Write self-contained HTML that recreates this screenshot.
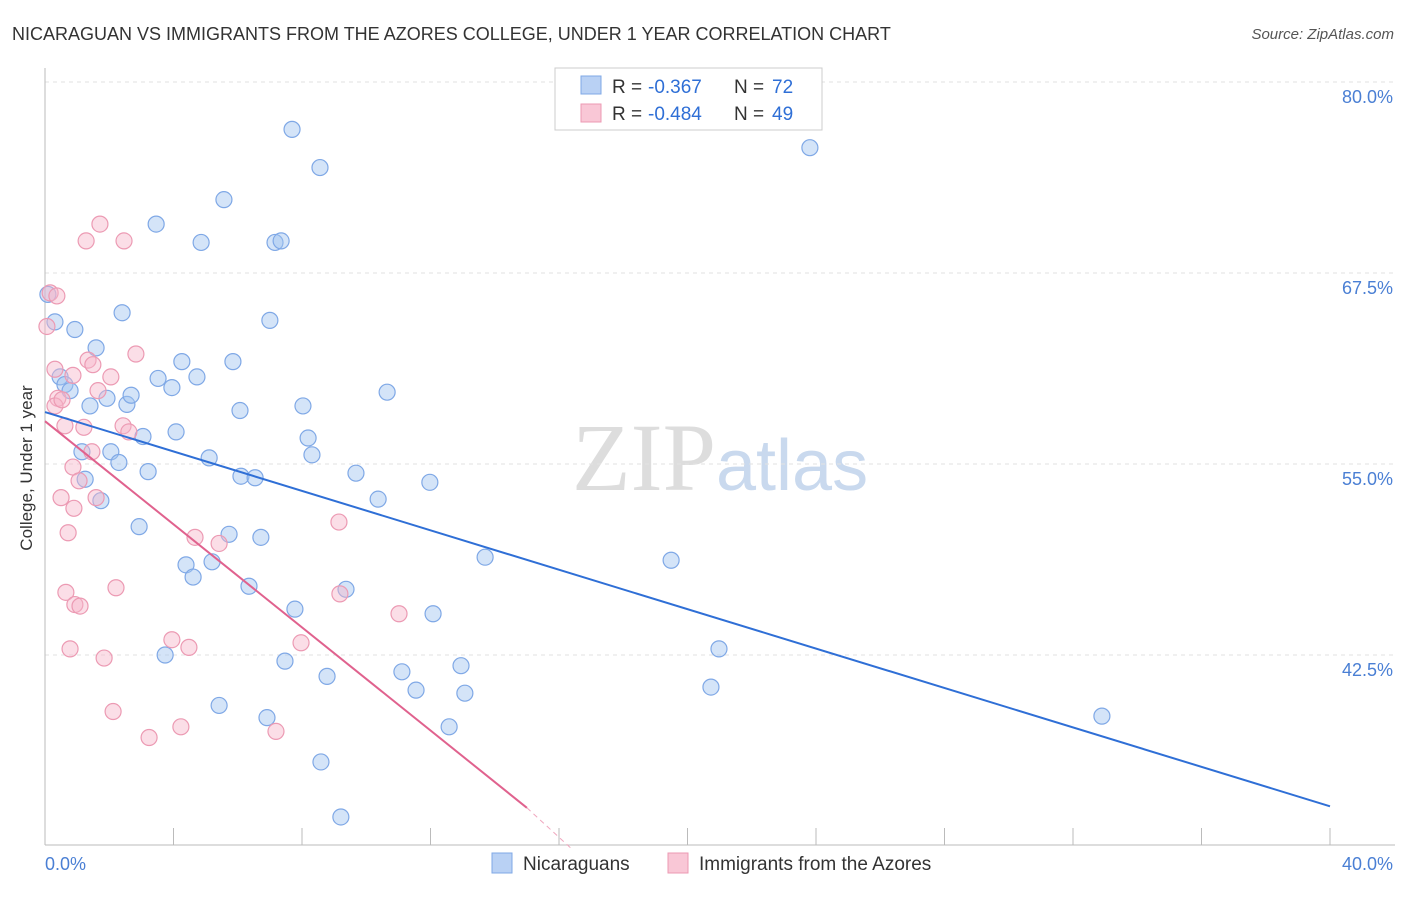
<!DOCTYPE html>
<html><head><meta charset="utf-8"><style>
body{margin:0;background:#fff;font-family:"Liberation Sans",sans-serif;}
</style></head><body>
<svg width="1406" height="892" xmlns="http://www.w3.org/2000/svg" font-family="Liberation Sans, sans-serif">
<text x="12" y="40" font-size="18" fill="#333">NICARAGUAN VS IMMIGRANTS FROM THE AZORES COLLEGE, UNDER 1 YEAR CORRELATION CHART</text>
<text x="1394" y="39" font-size="15" fill="#555" font-style="italic" text-anchor="end">Source: ZipAtlas.com</text>
<text x="716" y="490" font-size="96" fill="#ddd" text-anchor="end" font-family="Liberation Serif, serif">ZIP</text>
<text x="716" y="490" font-size="72" fill="#c9d9ee">atlas</text>
<g id="grid"></g>
<line x1="45" y1="68" x2="45" y2="845" stroke="#bbb"/>
<line x1="45" y1="845" x2="1395" y2="845" stroke="#bbb"/>
<text x="20" y="456" font-size="17" fill="#333" transform="rotate(-90 32 456)" text-anchor="middle">College, Under 1 year</text>
<text x="45" y="870" font-size="18" fill="#4a7fd4">0.0%</text>
<text x="1393" y="870" font-size="18" fill="#4a7fd4" text-anchor="end">40.0%</text>
<g id="pts"></g>
<g id="lines"></g>
<rect x="555" y="68" width="267" height="62" fill="#fff" stroke="#ccc"/>
<rect x="581" y="76" width="20" height="18" fill="#b9d1f4" stroke="#7fa8e6"/>
<rect x="581" y="104" width="20" height="18" fill="#f9c7d6" stroke="#ec9ab3"/>
<g font-size="19" fill="#333">
<text x="612" y="93">R =</text>
<text x="648" y="93" fill="#2f6fd6">-0.367</text>
<text x="734" y="93">N =</text>
<text x="772" y="93" fill="#2f6fd6">72</text>
<text x="612" y="120">R =</text>
<text x="648" y="120" fill="#2f6fd6">-0.484</text>
<text x="734" y="120">N =</text>
<text x="772" y="120" fill="#2f6fd6">49</text>
</g>
<rect x="492" y="853" width="20" height="20" fill="#b9d1f4" stroke="#7fa8e6"/>
<text x="523" y="870" font-size="19" fill="#333">Nicaraguans</text>
<rect x="668" y="853" width="20" height="20" fill="#f9c7d6" stroke="#ec9ab3"/>
<text x="699" y="870" font-size="19" fill="#333">Immigrants from the Azores</text>
</svg>
<script>
const yTicks=[80,67.5,55,42.5];
const xTicks=[0,4,8,12,16,20,24,28,32,36,40];
const blueX=[7.69,8.56,23.81,5.57,3.46,4.86,7.16,7.35,0.09,0.31,0.93,2.40,7.00,1.59,4.26,5.85,0.47,0.62,0.78,3.52,3.95,4.73,10.65,1.40,1.93,2.55,2.68,6.07,8.03,3.05,4.08,8.19,1.15,2.05,5.11,8.31,2.30,3.21,6.10,6.54,9.68,11.98,1.25,1.74,10.37,2.93,5.73,6.72,13.70,19.49,4.39,5.20,4.61,6.35,9.37,7.78,12.08,20.98,3.74,7.47,12.95,11.11,8.78,11.55,13.07,20.73,5.42,6.91,12.58,32.90,8.59,9.21];
const blueY=[76.9,74.4,75.7,72.3,70.7,69.5,69.5,69.6,66.1,64.3,63.8,64.9,64.4,62.6,61.7,61.7,60.7,60.2,59.8,60.6,60,60.7,59.7,58.8,59.3,58.9,59.5,58.5,58.8,56.8,57.1,56.7,55.8,55.8,55.4,55.6,55.1,54.5,54.2,54.1,54.4,53.8,54,52.6,52.7,50.9,50.4,50.2,48.9,48.7,48.4,48.6,47.6,47,46.8,45.5,45.2,42.9,42.5,42.1,41.8,41.4,41.1,40.2,40,40.4,39.2,38.4,37.8,38.5,35.5,31.9];
const pinkX=[1.71,1.28,2.46,0.16,0.37,0.06,2.83,1.34,1.49,0.31,0.87,2.05,1.65,0.40,0.31,0.53,2.43,1.21,2.61,0.62,1.46,0.87,1.06,0.50,1.59,0.90,0.72,9.15,4.67,5.42,2.21,0.65,0.93,1.09,9.18,11.02,7.97,3.95,4.48,0.78,1.84,2.12,4.23,3.24,7.19];
const pinkY=[70.7,69.6,69.6,66.2,66,64,62.2,61.8,61.5,61.2,60.8,60.7,59.8,59.3,58.8,59.2,57.5,57.4,57.1,57.5,55.8,54.8,53.9,52.8,52.8,52.1,50.5,51.2,50.2,49.8,46.9,46.6,45.8,45.7,46.5,45.2,43.3,43.5,43,42.9,42.3,38.8,37.8,37.1,37.5];
function xs(p){return 45+p*1285/40;}
function ys(v){return 82+(80-v)*191/12.5;}
const ns="http://www.w3.org/2000/svg";
const grid=document.getElementById('grid');
yTicks.forEach(t=>{const l=document.createElementNS(ns,'line');


l.setAttribute('x1',45);l.setAttribute('x2',1395);l.setAttribute('y1',ys(t));l.setAttribute('y2',ys(t));l.setAttribute('stroke','#e2e2e2');l.setAttribute('stroke-dasharray','4,4');grid.appendChild(l);
const tx=document.createElementNS(ns,'text');


tx.setAttribute('x',1393);tx.setAttribute('y',ys(t)+21);tx.setAttribute('text-anchor','end');tx.setAttribute('font-size','18');tx.setAttribute('fill','#4a7fd4');tx.textContent=t.toFixed(1)+'%';grid.appendChild(tx);});
xTicks.forEach(t=>{const l=document.createElementNS(ns,'line');


const x=xs(t);l.setAttribute('x1',x);l.setAttribute('x2',x);l.setAttribute('y1',828);l.setAttribute('y2',845);l.setAttribute('stroke','#bbb');grid.appendChild(l);});
const pts=document.getElementById('pts');
function dots(xa,ya,fill,stroke,name){xa.forEach((v,i)=>{const c=document.createElementNS(ns,'circle');


c.setAttribute('cx',xs(v));c.setAttribute('cy',ys(ya[i]));c.setAttribute('r',8);c.setAttribute('fill',fill);c.setAttribute('stroke',stroke);c.setAttribute('stroke-width','1.2');pts.appendChild(c);});}
dots(blueX,blueY,'rgba(160,195,240,0.45)','#7fa8e6','nicaraguan-point');
dots(pinkX,pinkY,'rgba(246,182,202,0.45)','#ec9ab3','azores-point');
const lines=document.getElementById('lines');
function ln(x1,y1,x2,y2,col,name,dash){const l=document.createElementNS(ns,'line');


l.setAttribute('x1',xs(x1));l.setAttribute('y1',ys(y1));l.setAttribute('x2',xs(x2));l.setAttribute('y2',ys(y2));l.setAttribute('stroke',col);l.setAttribute('stroke-width',dash?1:2);if(dash)l.setAttribute('stroke-dasharray','5,4');lines.appendChild(l);}
ln(0,58.4,40,32.6,'#2f6fd6','nicaraguan-trendline');
ln(0,57.8,15,32.5,'#e0628e','azores-trendline');
ln(15,32.5,16.4,29.8,'#f0a6be','azores-trendline-extension',true);
</script>
</body></html>
